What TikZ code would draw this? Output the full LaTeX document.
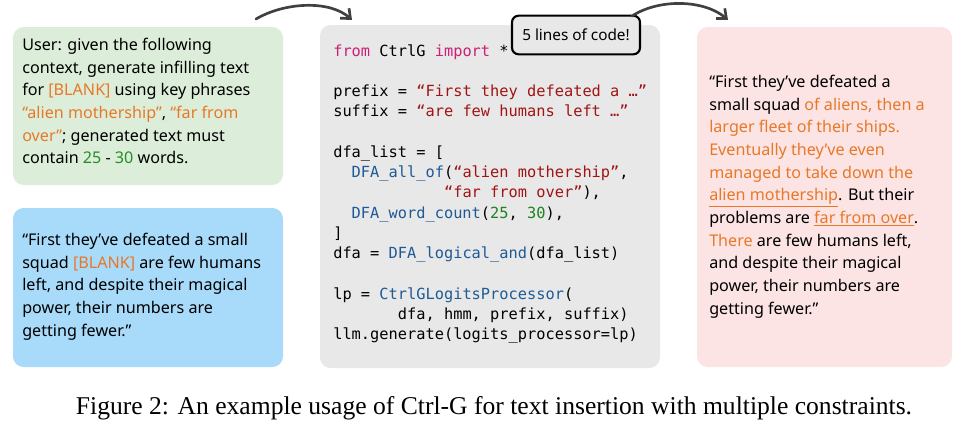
\documentclass[tikz,border=0pt]{standalone}
\usepackage{fontspec}
\setmainfont{Liberation Serif}
\setsansfont{Noto Sans}
\setmonofont{DejaVu Sans Mono}
\usetikzlibrary{arrows.meta}
\definecolor{gbg}{RGB}{220,238,218}
\definecolor{bbg}{RGB}{168,218,250}
\definecolor{cbg}{RGB}{232,232,232}
\definecolor{pbg}{RGB}{252,228,228}
\definecolor{org}{RGB}{232,120,40}
\definecolor{grn}{RGB}{40,140,40}
\definecolor{kw}{RGB}{205,30,120}
\definecolor{str}{RGB}{160,20,20}
\definecolor{fn}{RGB}{30,90,150}
\definecolor{num}{RGB}{30,130,30}
\tikzset{
  txt/.style={anchor=north west,align=left,inner sep=0pt,font=\sffamily\fontsize{12.1}{17}\selectfont},
  code/.style={anchor=north west,align=left,inner sep=0pt,font=\ttfamily\fontsize{11.5}{15.2}\selectfont},
  sketch/.style={draw=black!75,line width=2pt,line cap=round,-{Straight Barb[length=6pt,width=10pt]}}
}
\begin{document}
\begin{tikzpicture}[x=0.75pt,y=-0.75pt]
\useasboundingbox (0,0) rectangle (971,433);
\fill[gbg,rounded corners=8pt] (13,27) rectangle (283,185);
\fill[bbg,rounded corners=8pt] (13,208) rectangle (283,367);
\fill[cbg,rounded corners=8pt] (320,25) rectangle (660,368);
\fill[pbg,rounded corners=8pt] (697,27) rectangle (952,367);
\node[txt] (g) at (22,38) {User: given the following\\context, generate infilling text\\for \textcolor{org}{[BLANK]} using key phrases\\\textcolor{org}{``alien mothership''}, \textcolor{org}{``far from}\\\textcolor{org}{over''}; generated text must\\contain \textcolor{grn}{25} - \textcolor{grn}{30} words.};
\node[txt] (b) at (22,233) {``First they've defeated a small\\squad \textcolor{org}{[BLANK]} are few humans\\left, and despite their magical\\power, their numbers are\\getting fewer.''};
\node[code] (c) at (333,44) {\textcolor{kw}{from} CtrlG \textcolor{kw}{import} *\\[15.2pt]
prefix = \textcolor{str}{“First they defeated a …”}\\
suffix = \textcolor{str}{“are few humans left …”}\\[15.2pt]
dfa\_list = [\\
\ \ \textcolor{fn}{DFA\_all\_of}(\textcolor{str}{“alien mothership”},\\
\ \ \ \ \ \ \ \ \ \ \ \ \textcolor{str}{“far from over”}),\\
\ \ \textcolor{fn}{DFA\_word\_count}(\textcolor{num}{25}, \textcolor{num}{30}),\\
]\\
dfa = \textcolor{fn}{DFA\_logical\_and}(dfa\_list)\\[15.2pt]
lp = \textcolor{fn}{CtrlGLogitsProcessor}(\\
\ \ \ \ \ \ \ dfa, hmm, prefix, suffix)\\
llm.generate(logits\_processor=lp)};
\node[txt] (p) at (709,75) {``First they've defeated a\\small squad \textcolor{org}{of aliens, then a}\\\textcolor{org}{larger fleet of their ships.}\\\textcolor{org}{Eventually they've even}\\\textcolor{org}{managed to take down the}\\\textcolor{org}{\underline{alien mothership}}. But their\\problems are \textcolor{org}{\underline{far from over}}.\\\textcolor{org}{There} are few humans left,\\and despite their magical\\power, their numbers are\\getting fewer.''};
\node[draw=black,line width=1.6pt,rounded corners=5pt,fill=cbg,minimum width=96pt,minimum height=29pt,inner sep=0pt,font=\sffamily\fontsize{11.5}{13}\selectfont] (lbl) at (576,35) {5 lines of code!};
\coordinate (a1) at (256,19);
\coordinate (a2) at (352,20);
\coordinate (a3) at (632,16);
\coordinate (a4) at (728,20);
\draw[sketch] (a1) .. controls (285,2) and (330,0) .. (a2);
\draw[sketch] (a3) .. controls (660,-2) and (705,0) .. (a4);
\node[font=\fontsize{19.2}{22}\selectfont] (cap) at (494,408) {Figure 2: An example usage of Ctrl-G for text insertion with multiple constraints.};
\end{tikzpicture}
\end{document}
